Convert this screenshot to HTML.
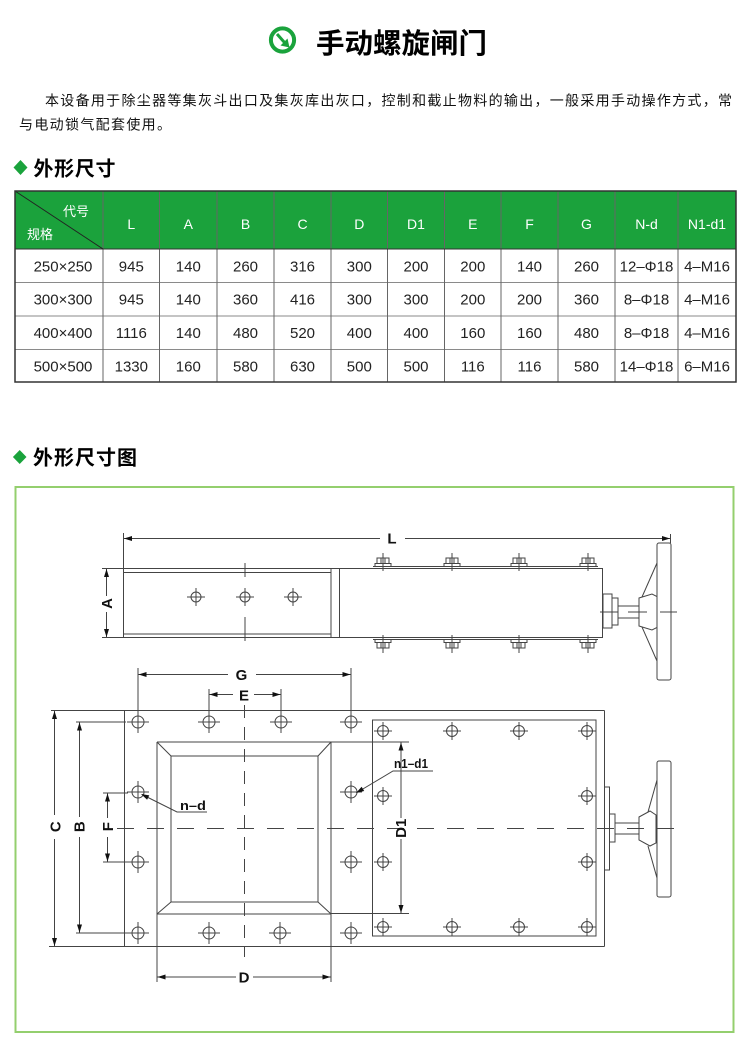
<!DOCTYPE html>
<html><head><meta charset="utf-8">
<style>
html,body{margin:0;padding:0;background:#fff;}
body{width:747px;height:1043px;overflow:hidden;position:relative;}
svg{position:absolute;left:0;top:0;}
.cjk{font-family:"Liberation Sans","Noto Sans CJK SC","WenQuanYi Zen Hei",sans-serif;}
.lat{font-family:"Liberation Sans",Arial,sans-serif;}
</style></head>
<body>
<svg width="747" height="1043" viewBox="0 0 747 1043" xmlns="http://www.w3.org/2000/svg">
<!-- Title -->
<circle cx="282.5" cy="40" r="11.6" fill="none" stroke="#1aa33c" stroke-width="4"/>
<line x1="277" y1="34" x2="284.5" y2="42.5" stroke="#1aa33c" stroke-width="3"/>
<polygon points="289.5,47.5 280.5,45.5 287.5,38.5" fill="#1aa33c"/>
<text x="316" y="53" class="cjk" font-size="28" font-weight="bold" fill="#000" textLength="171" lengthAdjust="spacingAndGlyphs">手动螺旋闸门</text>

<!-- Paragraph -->
<text x="45" y="105.3" class="cjk" font-size="14" fill="#111" textLength="687" lengthAdjust="spacing">本设备用于除尘器等集灰斗出口及集灰库出灰口，控制和截止物料的输出，一般采用手动操作方式，常</text>
<text x="19" y="129.3" class="cjk" font-size="14" fill="#111" textLength="152" lengthAdjust="spacing">与电动锁气配套使用。</text>

<!-- Heading 1 -->
<polygon points="20.5,160 27.5,167.5 20.5,175 13.5,167.5" fill="#1aa33c"/>
<text x="33.5" y="175.6" class="cjk" font-size="20" font-weight="bold" fill="#000" textLength="82" lengthAdjust="spacing">外形尺寸</text>

<!-- Table -->
<rect x="15" y="191" width="721" height="58" fill="#1ba23c"/>
<g stroke="#8a8a8a" stroke-width="1">
<line x1="15" y1="282.5" x2="736" y2="282.5"/>
<line x1="15" y1="316" x2="736" y2="316"/>
<line x1="15" y1="349.5" x2="736" y2="349.5"/>
</g>
<g stroke="#666" stroke-width="1">
<line x1="103" y1="191" x2="103" y2="382"/>
<line x1="159.5" y1="191" x2="159.5" y2="382"/>
<line x1="217" y1="191" x2="217" y2="382"/>
<line x1="274" y1="191" x2="274" y2="382"/>
<line x1="331" y1="191" x2="331" y2="382"/>
<line x1="387.5" y1="191" x2="387.5" y2="382"/>
<line x1="444.5" y1="191" x2="444.5" y2="382"/>
<line x1="501" y1="191" x2="501" y2="382"/>
<line x1="558" y1="191" x2="558" y2="382"/>
<line x1="615" y1="191" x2="615" y2="382"/>
<line x1="678" y1="191" x2="678" y2="382"/>
</g>
<line x1="15" y1="249" x2="736" y2="249" stroke="#333" stroke-width="1"/>
<line x1="15" y1="191" x2="103" y2="249" stroke="#222" stroke-width="1"/>
<rect x="15" y="191" width="721" height="191" fill="none" stroke="#333" stroke-width="1.5"/>
<text x="63" y="216" class="cjk" font-size="13" fill="#fff">代号</text>
<text x="27" y="239" class="cjk" font-size="13" fill="#fff">规格</text>
<g class="lat" font-size="14" fill="#fff" text-anchor="middle">
<text x="131.3" y="229">L</text><text x="188.3" y="229">A</text><text x="245.5" y="229">B</text>
<text x="302.5" y="229">C</text><text x="359.3" y="229">D</text><text x="416" y="229">D1</text>
<text x="472.8" y="229">E</text><text x="529.5" y="229">F</text><text x="586.5" y="229">G</text>
<text x="646.5" y="229">N-d</text><text x="707" y="229">N1-d1</text>
</g>
<g class="lat" font-size="15" fill="#222" text-anchor="middle">
<text x="63" y="271.5">250×250</text><text x="131.3" y="271.5">945</text><text x="188.3" y="271.5">140</text><text x="245.5" y="271.5">260</text><text x="302.5" y="271.5">316</text><text x="359.3" y="271.5">300</text><text x="416" y="271.5">200</text><text x="472.8" y="271.5">200</text><text x="529.5" y="271.5">140</text><text x="586.5" y="271.5">260</text><text x="646.5" y="271.5">12–Φ18</text><text x="707" y="271.5">4–M16</text>
<text x="63" y="304.5">300×300</text><text x="131.3" y="304.5">945</text><text x="188.3" y="304.5">140</text><text x="245.5" y="304.5">360</text><text x="302.5" y="304.5">416</text><text x="359.3" y="304.5">300</text><text x="416" y="304.5">300</text><text x="472.8" y="304.5">200</text><text x="529.5" y="304.5">200</text><text x="586.5" y="304.5">360</text><text x="646.5" y="304.5">8–Φ18</text><text x="707" y="304.5">4–M16</text>
<text x="63" y="338">400×400</text><text x="131.3" y="338">1116</text><text x="188.3" y="338">140</text><text x="245.5" y="338">480</text><text x="302.5" y="338">520</text><text x="359.3" y="338">400</text><text x="416" y="338">400</text><text x="472.8" y="338">160</text><text x="529.5" y="338">160</text><text x="586.5" y="338">480</text><text x="646.5" y="338">8–Φ18</text><text x="707" y="338">4–M16</text>
<text x="63" y="371.3">500×500</text><text x="131.3" y="371.3">1330</text><text x="188.3" y="371.3">160</text><text x="245.5" y="371.3">580</text><text x="302.5" y="371.3">630</text><text x="359.3" y="371.3">500</text><text x="416" y="371.3">500</text><text x="472.8" y="371.3">116</text><text x="529.5" y="371.3">116</text><text x="586.5" y="371.3">580</text><text x="646.5" y="371.3">14–Φ18</text><text x="707" y="371.3">6–M16</text>
</g>

<!-- Heading 2 -->
<polygon points="19.7,450 26.5,457 19.7,464 12.9,457" fill="#1aa33c"/>
<text x="33" y="464.6" class="cjk" font-size="20" font-weight="bold" fill="#000" textLength="104" lengthAdjust="spacing">外形尺寸图</text>

<!-- Green box -->
<rect x="15.5" y="487" width="718" height="545" fill="none" stroke="#94cf6e" stroke-width="2"/>

<!-- ============ TOP VIEW ============ -->
<g stroke="#444" stroke-width="1" fill="none">
<!-- L dimension -->
<line x1="123.5" y1="533" x2="123.5" y2="568"/>
<line x1="670.5" y1="534" x2="670.5" y2="543"/>
<line x1="123.5" y1="538.5" x2="380" y2="538.5"/>
<line x1="405" y1="538.5" x2="670.5" y2="538.5"/>
<!-- A dimension -->
<line x1="102" y1="568.5" x2="123.5" y2="568.5"/>
<line x1="102" y1="637.5" x2="123.5" y2="637.5"/>
<line x1="106.5" y1="568.5" x2="106.5" y2="596"/>
<line x1="106.5" y1="612" x2="106.5" y2="637.5"/>
<!-- left body -->
<line x1="123.5" y1="568.5" x2="603" y2="568.5"/>
<line x1="123.5" y1="572.5" x2="331" y2="572.5"/>
<line x1="123.5" y1="634" x2="331" y2="634"/>
<line x1="123.5" y1="637.5" x2="603" y2="637.5"/>
<line x1="123.5" y1="568.5" x2="123.5" y2="637.5"/>
<line x1="331" y1="568.5" x2="331" y2="637.5"/>
<line x1="339.5" y1="568.5" x2="339.5" y2="637.5"/>
<line x1="602.5" y1="568.5" x2="602.5" y2="637.5"/>
<!-- flange strips -->
<line x1="373" y1="566.5" x2="598" y2="566.5"/>
<line x1="373" y1="639.5" x2="598" y2="639.5"/>
<!-- center line -->
<line x1="245" y1="563" x2="245" y2="577"/>
<line x1="245" y1="617" x2="245" y2="641"/>
<!-- holes -->
<circle cx="196" cy="597" r="5"/><line x1="187" y1="597" x2="205" y2="597"/><line x1="196" y1="588" x2="196" y2="606"/>
<circle cx="245" cy="597" r="5"/><line x1="236" y1="597" x2="254" y2="597"/><line x1="245" y1="588" x2="245" y2="606"/>
<circle cx="293" cy="597" r="5"/><line x1="284" y1="597" x2="302" y2="597"/><line x1="293" y1="588" x2="293" y2="606"/>
<!-- hub -->
<rect x="603" y="594" width="9" height="34"/>
<rect x="612" y="598" width="6" height="27"/>
<line x1="618" y1="606" x2="639" y2="606"/>
<line x1="618" y1="618" x2="639" y2="618"/>
<polygon points="639,598 652,594 657,596.5 657,627.5 652,630 639,626"/>
<line x1="642" y1="597" x2="657" y2="563"/>
<line x1="642" y1="627" x2="657" y2="661"/>
<rect x="657" y="543" width="14" height="137" rx="2"/>
<line x1="600" y1="612" x2="618" y2="612"/>
<line x1="628" y1="612" x2="647" y2="612"/>
<line x1="660" y1="612" x2="677" y2="612"/>
</g>
<!-- nuts top view -->
<g stroke="#444" stroke-width="1" fill="#fff">
<g id="nt1"><rect x="375" y="563.5" width="16" height="3"/><rect x="377" y="558" width="12" height="5.5"/><line x1="381" y1="558" x2="381" y2="563.5"/><line x1="385" y1="558" x2="385" y2="563.5"/><line x1="383" y1="553" x2="383" y2="571"/></g>
<rect x="444" y="563.5" width="16" height="3"/><rect x="446" y="558" width="12" height="5.5"/><line x1="450" y1="558" x2="450" y2="563.5"/><line x1="454" y1="558" x2="454" y2="563.5"/><line x1="452" y1="553" x2="452" y2="571"/>
<rect x="511" y="563.5" width="16" height="3"/><rect x="513" y="558" width="12" height="5.5"/><line x1="517" y1="558" x2="517" y2="563.5"/><line x1="521" y1="558" x2="521" y2="563.5"/><line x1="519" y1="553" x2="519" y2="571"/>
<rect x="580" y="563.5" width="16" height="3"/><rect x="582" y="558" width="12" height="5.5"/><line x1="586" y1="558" x2="586" y2="563.5"/><line x1="590" y1="558" x2="590" y2="563.5"/><line x1="588" y1="553" x2="588" y2="571"/>
<rect x="375" y="639.5" width="16" height="3"/><rect x="377" y="642.5" width="12" height="5.5"/><line x1="381" y1="642.5" x2="381" y2="648"/><line x1="385" y1="642.5" x2="385" y2="648"/><line x1="383" y1="635" x2="383" y2="653"/>
<rect x="444" y="639.5" width="16" height="3"/><rect x="446" y="642.5" width="12" height="5.5"/><line x1="450" y1="642.5" x2="450" y2="648"/><line x1="454" y1="642.5" x2="454" y2="648"/><line x1="452" y1="635" x2="452" y2="653"/>
<rect x="511" y="639.5" width="16" height="3"/><rect x="513" y="642.5" width="12" height="5.5"/><line x1="517" y1="642.5" x2="517" y2="648"/><line x1="521" y1="642.5" x2="521" y2="648"/><line x1="519" y1="635" x2="519" y2="653"/>
<rect x="580" y="639.5" width="16" height="3"/><rect x="582" y="642.5" width="12" height="5.5"/><line x1="586" y1="642.5" x2="586" y2="648"/><line x1="590" y1="642.5" x2="590" y2="648"/><line x1="588" y1="635" x2="588" y2="653"/>
</g>
<!-- arrows top view -->
<g fill="#111">
<polygon points="124,538.5 132,536 132,541"/>
<polygon points="670,538.5 662,536 662,541"/>
<polygon points="106.5,569 104,577 109,577"/>
<polygon points="106.5,637 104,629 109,629"/>
</g>
<g class="lat" font-size="15" font-weight="bold" fill="#111" text-anchor="middle">
<text x="392" y="543.5">L</text>
<text x="106.7" y="608.8" transform="rotate(-90 106.7 603.5)">A</text>
</g>

<!-- ============ BOTTOM VIEW ============ -->
<g stroke="#444" stroke-width="1" fill="none">
<!-- G / E -->
<line x1="138" y1="668" x2="138" y2="733"/>
<line x1="351" y1="668" x2="351" y2="733"/>
<line x1="138" y1="674.5" x2="228" y2="674.5"/>
<line x1="256" y1="674.5" x2="351" y2="674.5"/>
<line x1="209" y1="689" x2="209" y2="733"/>
<line x1="281" y1="689" x2="281" y2="733"/>
<line x1="209" y1="694.5" x2="233" y2="694.5"/>
<line x1="254" y1="694.5" x2="281" y2="694.5"/>
<!-- plate -->
<line x1="51" y1="710.5" x2="604.5" y2="710.5"/>
<line x1="49" y1="946.5" x2="604.5" y2="946.5"/>
<line x1="124.5" y1="710.5" x2="124.5" y2="946.5"/>
<line x1="604.5" y1="710.5" x2="604.5" y2="946.5"/>
<!-- C -->
<line x1="54.5" y1="710.5" x2="54.5" y2="815"/>
<line x1="54.5" y1="839" x2="54.5" y2="946.5"/>
<!-- B -->
<line x1="76" y1="722" x2="126" y2="722"/>
<line x1="76" y1="933" x2="128" y2="933"/>
<line x1="79.5" y1="722" x2="79.5" y2="817"/>
<line x1="79.5" y1="837" x2="79.5" y2="933"/>
<!-- F -->
<line x1="103" y1="793" x2="128" y2="793"/>
<line x1="103" y1="862" x2="128" y2="862"/>
<line x1="107.5" y1="793" x2="107.5" y2="818"/>
<line x1="107.5" y1="837" x2="107.5" y2="862"/>
<!-- frame -->
<line x1="157" y1="742" x2="409" y2="742"/>
<line x1="157" y1="914" x2="331" y2="914"/>
<line x1="331" y1="913.5" x2="409" y2="913.5"/>
<line x1="157" y1="742" x2="157" y2="982"/>
<line x1="331" y1="742" x2="331" y2="982"/>
<rect x="171" y="756" width="147" height="146"/>
<line x1="157" y1="742" x2="171" y2="756"/>
<line x1="331" y1="742" x2="318" y2="756"/>
<line x1="157" y1="914" x2="171" y2="902"/>
<line x1="331" y1="914" x2="318" y2="902"/>
<!-- right plate -->
<rect x="372.5" y="720" width="223.5" height="216"/>
<!-- D1 -->
<line x1="401" y1="742" x2="401" y2="818"/>
<line x1="401" y1="839" x2="401" y2="913.5"/>
<!-- D -->
<line x1="157" y1="977" x2="236" y2="977"/>
<line x1="253" y1="977" x2="331" y2="977"/>
<!-- center lines -->
<line x1="117" y1="828.5" x2="677" y2="828.5" stroke-dasharray="17 13"/>
<line x1="244.5" y1="705" x2="244.5" y2="957" stroke-dasharray="13 9"/>
<!-- n-d leader -->
<polyline points="142,794.5 177,812 207,812"/>
<!-- n1-d1 leader -->
<polyline points="357,792.5 393,771 433,771"/>
<!-- hub -->
<rect x="604.5" y="787" width="5" height="83"/>
<rect x="609.5" y="814" width="5.5" height="28"/>
<line x1="615" y1="823" x2="639" y2="823"/>
<line x1="615" y1="834" x2="639" y2="834"/>
<polygon points="639,817 650,811 656,815 656,843 650,846 639,840"/>
<line x1="648" y1="812" x2="657" y2="780"/>
<line x1="648" y1="846" x2="657" y2="878"/>
<rect x="657" y="761" width="14" height="136" rx="2"/>
</g>
<!-- bolts left plate -->
<g stroke="#444" stroke-width="1" fill="none">
<circle cx="138" cy="722" r="6"/><line x1="127" y1="722" x2="149" y2="722"/><line x1="138" y1="711" x2="138" y2="733"/>
<circle cx="209" cy="722" r="6"/><line x1="198" y1="722" x2="220" y2="722"/><line x1="209" y1="711" x2="209" y2="733"/>
<circle cx="281" cy="722" r="6"/><line x1="270" y1="722" x2="292" y2="722"/><line x1="281" y1="711" x2="281" y2="733"/>
<circle cx="351" cy="722" r="6"/><line x1="340" y1="722" x2="362" y2="722"/><line x1="351" y1="711" x2="351" y2="733"/>
<circle cx="138" cy="792" r="6"/><line x1="127" y1="792" x2="149" y2="792"/><line x1="138" y1="781" x2="138" y2="803"/>
<circle cx="351" cy="792" r="6"/><line x1="340" y1="792" x2="362" y2="792"/><line x1="351" y1="781" x2="351" y2="803"/>
<circle cx="138" cy="862" r="6"/><line x1="127" y1="862" x2="149" y2="862"/><line x1="138" y1="851" x2="138" y2="873"/>
<circle cx="351" cy="862" r="6"/><line x1="340" y1="862" x2="362" y2="862"/><line x1="351" y1="851" x2="351" y2="873"/>
<circle cx="138" cy="933" r="6"/><line x1="127" y1="933" x2="149" y2="933"/><line x1="138" y1="922" x2="138" y2="944"/>
<circle cx="209" cy="933" r="6"/><line x1="198" y1="933" x2="220" y2="933"/><line x1="209" y1="922" x2="209" y2="944"/>
<circle cx="280" cy="933" r="6"/><line x1="269" y1="933" x2="291" y2="933"/><line x1="280" y1="922" x2="280" y2="944"/>
<circle cx="351" cy="933" r="6"/><line x1="340" y1="933" x2="362" y2="933"/><line x1="351" y1="922" x2="351" y2="944"/>
</g>
<!-- bolts right plate -->
<g stroke="#444" stroke-width="1" fill="none">
<circle cx="383" cy="731" r="5.5"/><line x1="374" y1="731" x2="392" y2="731"/><line x1="383" y1="722" x2="383" y2="740"/>
<circle cx="452" cy="731" r="5.5"/><line x1="443" y1="731" x2="461" y2="731"/><line x1="452" y1="722" x2="452" y2="740"/>
<circle cx="519" cy="731" r="5.5"/><line x1="510" y1="731" x2="528" y2="731"/><line x1="519" y1="722" x2="519" y2="740"/>
<circle cx="587" cy="731" r="5.5"/><line x1="578" y1="731" x2="596" y2="731"/><line x1="587" y1="722" x2="587" y2="740"/>
<circle cx="383" cy="796" r="5.5"/><line x1="374" y1="796" x2="392" y2="796"/><line x1="383" y1="787" x2="383" y2="805"/>
<circle cx="587" cy="796" r="5.5"/><line x1="578" y1="796" x2="596" y2="796"/><line x1="587" y1="787" x2="587" y2="805"/>
<circle cx="383" cy="862" r="5.5"/><line x1="374" y1="862" x2="392" y2="862"/><line x1="383" y1="853" x2="383" y2="871"/>
<circle cx="587" cy="862" r="5.5"/><line x1="578" y1="862" x2="596" y2="862"/><line x1="587" y1="853" x2="587" y2="871"/>
<circle cx="383" cy="927" r="5.5"/><line x1="374" y1="927" x2="392" y2="927"/><line x1="383" y1="918" x2="383" y2="936"/>
<circle cx="452" cy="927" r="5.5"/><line x1="443" y1="927" x2="461" y2="927"/><line x1="452" y1="918" x2="452" y2="936"/>
<circle cx="519" cy="927" r="5.5"/><line x1="510" y1="927" x2="528" y2="927"/><line x1="519" y1="918" x2="519" y2="936"/>
<circle cx="587" cy="927" r="5.5"/><line x1="578" y1="927" x2="596" y2="927"/><line x1="587" y1="918" x2="587" y2="936"/>
</g>
<!-- arrows bottom view -->
<g fill="#111">
<polygon points="138.5,674.5 146.5,672 146.5,677"/>
<polygon points="350.5,674.5 342.5,672 342.5,677"/>
<polygon points="209.5,694.5 217.5,692 217.5,697"/>
<polygon points="280.5,694.5 272.5,692 272.5,697"/>
<polygon points="54.5,711 52,719 57,719"/>
<polygon points="54.5,946 52,938 57,938"/>
<polygon points="79.5,722.5 77,730.5 82,730.5"/>
<polygon points="79.5,932.5 77,924.5 82,924.5"/>
<polygon points="107.5,793.5 105,801.5 110,801.5"/>
<polygon points="107.5,861.5 105,853.5 110,853.5"/>
<polygon points="401,742.5 398.5,750.5 403.5,750.5"/>
<polygon points="401,913 398.5,905 403.5,905"/>
<polygon points="157.5,977 165.5,974.5 165.5,979.5"/>
<polygon points="330.5,977 322.5,974.5 322.5,979.5"/>
<polygon points="141,794 147.1,799.8 149.3,795.4"/>
<polygon points="356,793 364.2,791 361.6,786.8"/>
</g>
<g class="lat" font-size="15" font-weight="bold" fill="#111" text-anchor="middle">
<text x="241.5" y="680">G</text>
<text x="244" y="700.5">E</text>
<text x="244" y="982.5">D</text>
<text x="55.3" y="832" transform="rotate(-90 55.3 826.7)">C</text>
<text x="79.2" y="832" transform="rotate(-90 79.2 826.7)">B</text>
<text x="107.5" y="832" transform="rotate(-90 107.5 826.7)">F</text>
<text x="400.5" y="833.6" transform="rotate(-90 400.5 828.3)">D1</text>
</g>
<g class="lat" font-size="13" font-weight="bold" fill="#111">
<text x="180" y="810" textLength="26" lengthAdjust="spacingAndGlyphs">n–d</text>
<text x="394" y="768" textLength="34" lengthAdjust="spacingAndGlyphs">n1–d1</text>
</g>
</svg>
</body></html>
